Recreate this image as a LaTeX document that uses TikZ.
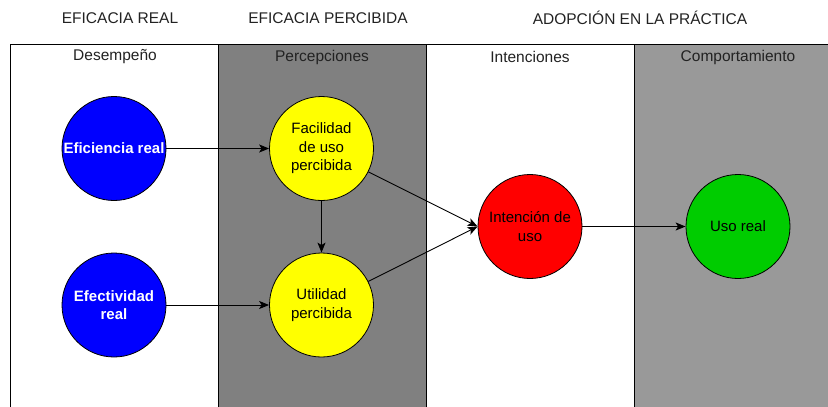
\documentclass[tikz,border=0pt]{standalone}
\usepackage{fontspec}
\setmainfont{Liberation Sans}
\usetikzlibrary{arrows.meta}
\definecolor{gA}{HTML}{808080}
\definecolor{gB}{HTML}{999999}
\definecolor{cblue}{HTML}{0000FF}
\definecolor{cyel}{HTML}{FFFF00}
\definecolor{cred}{HTML}{FF0000}
\definecolor{cgreen}{HTML}{00CC00}
\definecolor{txt}{HTML}{222222}
\tikzset{
  lane/.style={draw=black, line width=1pt},
  circ/.style={circle, draw=black, line width=0.8pt, minimum size=104pt, inner sep=0pt, align=center, font=\fontsize{15}{18.5}\selectfont, text=black},
  bluec/.style={circ, fill=cblue, text=white, font=\fontsize{15}{18.5}\selectfont\bfseries},
  hdr/.style={font=\fontsize{15.5}{18}\selectfont, text=txt, anchor=center},
  conn/.style={draw=black, line width=0.9pt, -{Stealth[length=10pt,width=8pt,inset=2.5pt]}}
}
\begin{document}
\begin{tikzpicture}[x=1pt,y=-1pt]
\useasboundingbox (0,0) rectangle (828,407);
\fill[white] (0,0) rectangle (828,407);
\begin{scope}
\clip (0,0) rectangle (828,407);
\path[lane, fill=white] (10,44) rectangle (218,430);
\path[lane, fill=gA] (218,44) rectangle (426,430);
\path[lane, fill=white] (426,44) rectangle (634,430);
\path[lane, fill=gB] (634,44) rectangle (842,430);
\end{scope}
\node[hdr] (h1) at (120,18) {EFICACIA REAL};
\node[hdr] (h2) at (328,18) {EFICACIA PERCIBIDA};
\node[hdr] (h3) at (640,18) {ADOPCIÓN EN LA PRÁCTICA};
\node[hdr] (l1) at (115,57) {Desempeño};
\node[hdr] (l2) at (322,57) {Percepciones};
\node[hdr] (l3) at (530,57) {Intenciones};
\node[hdr] (l4) at (738,57) {Comportamiento};
\node[bluec] (efi) at (114,148.5) {Eficiencia real};
\node[bluec] (efe) at (114,305) {Efectividad\\real};
\node[circ, fill=cyel] (fac) at (321.5,148.5) {Facilidad\\de uso\\percibida};
\node[circ, fill=cyel] (uti) at (321.5,305) {Utilidad\\percibida};
\node[circ, fill=cred] (int) at (530,226.5) {Intención de\\uso};
\node[circ, fill=cgreen] (uso) at (738,226.5) {Uso real};
\draw[conn] (efi) -- (fac);
\draw[conn] (efe) -- (uti);
\draw[conn] (fac) -- (uti);
\draw[conn] (fac) -- (int.west);
\draw[conn] (uti) -- (int.west);
\draw[conn] (int) -- (uso);
\end{tikzpicture}
\end{document}
